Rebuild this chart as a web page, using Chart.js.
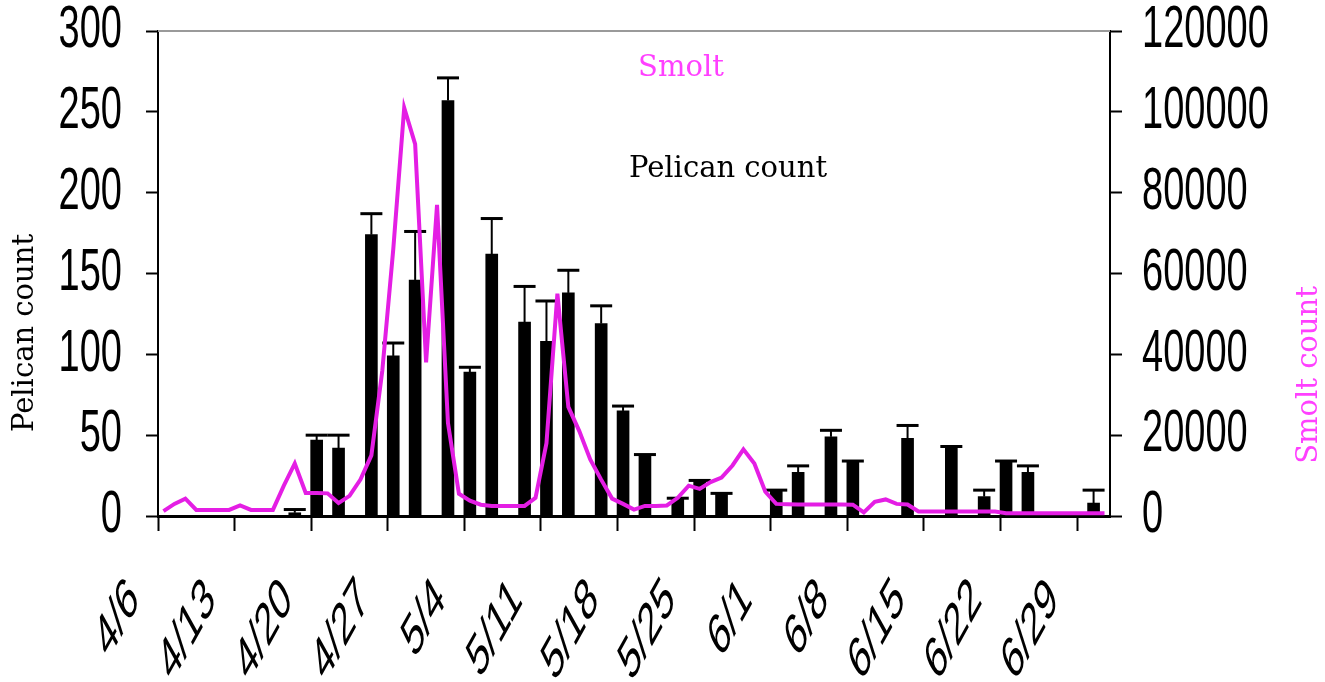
<!DOCTYPE html>
<html>
<head>
<meta charset="utf-8">
<script src="https://cdn.jsdelivr.net/npm/chart.js@4.4.1/dist/chart.umd.min.js"></script>
<style>
html, body { margin: 0; padding: 0; background: #fff; }
</style>
</head>
<body>
<canvas id="pelicanChart" width="1325" height="682"></canvas>
<script>
// one slot per day, 4/6 .. 7/1
const weekLabels = ['4/6','4/13','4/20','4/27','5/4','5/11','5/18','5/25','6/1','6/8','6/15','6/22','6/29'];
const dayCount = 87;

// pelican counts, left axis
const pelicanDates = ['4/18','4/20','4/22','4/25','4/27','4/29','5/2','5/4','5/6','5/9','5/11','5/13','5/16','5/18',
                      '5/20','5/23','5/25','5/27','6/1','6/3','6/6','6/8','6/13','6/17','6/20','6/22','6/24','6/30'];
const pelicanCounts = [2, 47, 42, 174, 99, 146, 257, 89, 162, 120, 108, 138, 119, 65,
                       38, 11, 22, 14, 16, 27, 49, 34, 48, 43, 12, 34, 27, 8];
const pelicanErr = [2, 3, 8, 13, 8, 30, 14, 3, 22, 22, 25, 14, 11, 3,
                    0, 0, 0, 0, 0, 4, 4, 0, 8, 0, 4, 0, 4, 8];

// daily smolt counts, right axis (4/6 .. 7/1)
const smoltCounts = [
  1200, 3000, 4300, 1500, 1500, 1500, 1500, 2600, 1500, 1500,
  1500, 7500, 13000, 5700, 5700, 5600, 3200, 5000, 9000, 15000,
  36000, 66000, 101000, 92000, 38000, 77000, 23000, 5500, 3800, 2800,
  2500, 2500, 2500, 2500, 4500, 18000, 55000, 27000, 21000, 14000,
  9000, 4300, 3000, 1600, 2500, 2500, 2600, 4500, 7500, 6700,
  8400, 9500, 12500, 16500, 13000, 6000, 3000, 2900, 2850, 2850,
  2850, 2850, 2850, 2800, 900, 3500, 4100, 3000, 2850, 1100,
  1100, 1100, 1100, 1100, 1100, 1100, 1100, 700, 700, 700,
  700, 700, 700, 700, 700, 700, 700
];

const MAGENTA = '#e41ee4';
const PINK_TEXT = '#ff40ff';
const sans = "'Liberation Sans', Arial, sans-serif";
const slab = "'DejaVu Serif', serif";

function dayIndex(s) {
  const [m, d] = s.split('/').map(Number);
  return Math.round((Date.UTC(2000, m - 1, d) - Date.UTC(2000, 3, 6)) / 86400000);
}

const weekTicks = weekLabels.map(dayIndex);
const barData = pelicanDates.map((d, i) => ({ x: dayIndex(d) + 0.5, y: pelicanCounts[i] }));
const lineData = smoltCounts.map((v, i) => ({ x: i + 0.5, y: v }));

// the tick labels in the source look vertically stretched
function stretchedText(ctx, text, x, y, align, stretch, angle) {
  ctx.save();
  ctx.translate(x, y);
  ctx.scale(1, stretch);
  if (angle) ctx.rotate(angle);
  ctx.textAlign = align;
  ctx.textBaseline = 'middle';
  ctx.fillText(text, 0, 0);
  ctx.restore();
}

const errorBars = {
  id: 'errorBars',
  beforeDatasetsDraw(chart) {
    const { ctx, scales: { x, y } } = chart;
    ctx.save();
    ctx.strokeStyle = '#000';
    pelicanDates.forEach((d, i) => {
      const px = x.getPixelForValue(dayIndex(d) + 0.5);
      const top = y.getPixelForValue(pelicanCounts[i]);
      const hi = y.getPixelForValue(pelicanCounts[i] + pelicanErr[i]);
      ctx.lineWidth = 2;
      ctx.beginPath();
      ctx.moveTo(px, top);
      ctx.lineTo(px, hi);
      ctx.stroke();
      ctx.lineWidth = 3;
      ctx.beginPath();
      ctx.moveTo(px - 11, hi);
      ctx.lineTo(px + 11, hi);
      ctx.stroke();
    });
    // grey top edge of the plot
    const a = chart.chartArea;
    ctx.strokeStyle = '#9a9a9a';
    ctx.lineWidth = 2;
    ctx.beginPath();
    ctx.moveTo(a.left, a.top);
    ctx.lineTo(a.right, a.top);
    ctx.stroke();
    ctx.restore();
  }
};

const tickLabels = {
  id: 'tickLabels',
  afterDraw(chart) {
    const { ctx, scales: { x, y, y2 } } = chart;
    ctx.save();
    ctx.fillStyle = '#000';
    ctx.font = '38px ' + sans;
    y.ticks.forEach(t => stretchedText(ctx, String(t.value), y.right - 36, y.getPixelForValue(t.value), 'right', 1.55));
    y2.ticks.forEach(t => stretchedText(ctx, String(t.value), y2.left + 32, y2.getPixelForValue(t.value), 'left', 1.55));
    ctx.font = '33px ' + sans;
    x.ticks.forEach(t => {
      const lbl = weekLabels[weekTicks.indexOf(t.value)];
      if (lbl) stretchedText(ctx, lbl, x.getPixelForValue(t.value) - 24, x.top + 74, 'right', 1.8, -Math.PI / 4);
    });
    ctx.restore();
  }
};

const textLabels = {
  id: 'textLabels',
  afterDraw(chart) {
    const ctx = chart.ctx;
    ctx.save();
    ctx.font = '29px ' + slab;
    ctx.textAlign = 'center';
    ctx.textBaseline = 'alphabetic';
    ctx.fillStyle = PINK_TEXT;
    ctx.fillText('Smolt', 681, 76);
    ctx.fillStyle = '#000';
    ctx.fillText('Pelican count', 728, 177);
    ctx.textBaseline = 'middle';
    // axis titles, both read bottom to top
    ctx.translate(25, 333);
    ctx.rotate(-Math.PI / 2);
    ctx.fillText('Pelican count', 0, 0);
    ctx.restore();
    ctx.save();
    ctx.font = '29px ' + slab;
    ctx.textAlign = 'center';
    ctx.textBaseline = 'middle';
    ctx.translate(1309, 375);
    ctx.rotate(-Math.PI / 2);
    ctx.fillStyle = PINK_TEXT;
    ctx.fillText('Smolt count', 0, 0);
    ctx.restore();
  }
};

const tickGrid = { drawOnChartArea: false, drawTicks: true, tickColor: '#000', tickWidth: 2, offset: false };

new Chart(document.getElementById('pelicanChart').getContext('2d'), {
  data: {
    datasets: [{
      type: 'line',
      label: 'Smolt',
      data: lineData,
      yAxisID: 'y2',
      borderColor: MAGENTA,
      borderWidth: 4,
      pointRadius: 0,
      tension: 0,
      order: 0
    }, {
      type: 'bar',
      label: 'Pelican count',
      data: barData,
      yAxisID: 'y',
      backgroundColor: '#000',
      barThickness: 12,
      order: 1
    }]
  },
  options: {
    responsive: false,
    animation: false,
    layout: { padding: { top: 31, left: 0, right: 0, bottom: 0 } },
    plugins: { legend: { display: false }, tooltip: { enabled: false } },
    scales: {
      x: {
        type: 'linear',
        offset: false,
        min: 0,
        max: dayCount,
        afterBuildTicks: (scale) => { scale.ticks = weekTicks.map(v => ({ value: v })); },
        afterFit: (scale) => { scale.height = 166; scale.paddingLeft = 0; scale.paddingRight = 0; },
        grid: { ...tickGrid, tickLength: 15 },
        border: { display: true, color: '#000', width: 3 },
        ticks: { display: false }
      },
      y: {
        position: 'left',
        min: 0,
        max: 300,
        afterFit: (scale) => { scale.width = 158; scale.paddingTop = 0; scale.paddingBottom = 0; },
        grid: { ...tickGrid, tickLength: 12 },
        border: { display: true, color: '#000', width: 2 },
        ticks: { display: false, stepSize: 50 }
      },
      y2: {
        position: 'right',
        min: 0,
        max: 120000,
        afterFit: (scale) => { scale.width = 215; scale.paddingTop = 0; scale.paddingBottom = 0; },
        grid: { ...tickGrid, tickLength: 12 },
        border: { display: true, color: '#000', width: 2 },
        ticks: { display: false, stepSize: 20000 }
      }
    }
  },
  plugins: [errorBars, tickLabels, textLabels]
});
</script>
</body>
</html>
